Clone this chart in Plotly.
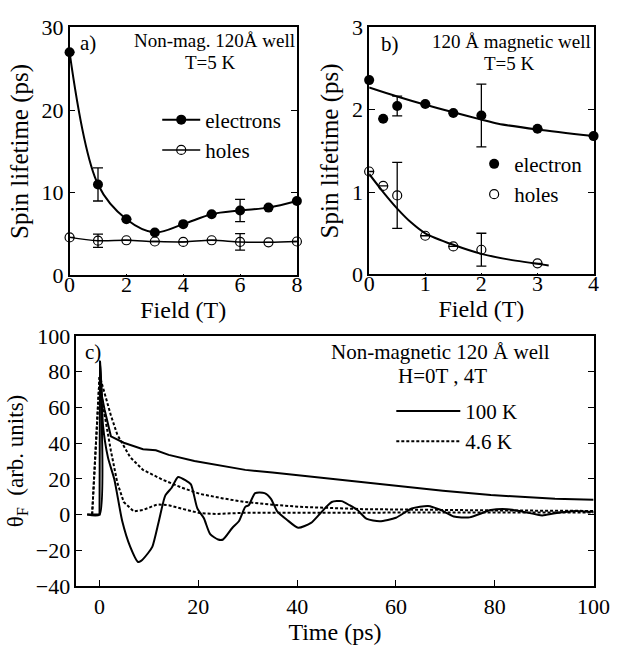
import plotly.graph_objects as go

W, H = 626, 647
FONT = "Liberation Serif"

# ---------------- Panel a data ----------------
field_a = [0, 1, 2, 3, 4, 5, 6, 7, 8]
electrons_a = [27.0, 11.0, 6.8, 5.2, 6.2, 7.4, 7.85, 8.2, 9.0]
electrons_a_err = [None, 2.0, None, None, None, None, 1.35, None, None]
holes_a = [4.6, 4.2, 4.25, 4.1, 4.05, 4.25, 4.05, 4.0, 4.1]
holes_a_err = [None, 0.8, None, None, None, None, 1.0, None, None]

# ---------------- Panel b data ----------------
field_b_e = [0, 0.25, 0.5, 1, 1.5, 2, 3, 4]
electron_b = [2.36, 1.89, 2.045, 2.07, 1.96, 1.93, 1.77, 1.68]
electron_b_err = [None, None, 0.12, None, None, 0.38, None, None]
field_b_h = [0, 0.25, 0.5, 1, 1.5, 2, 3]
holes_b = [1.25, 1.075, 0.96, 0.47, 0.34, 0.30, 0.135]
holes_b_err = [None, None, 0.4, None, None, 0.2, None]
fit_field_e = [0, 0.5, 1, 1.5, 2, 2.3, 3, 4]
fit_e = [2.27, 2.16, 2.06, 1.97, 1.88, 1.83, 1.76, 1.68]
fit_field_h = [0, 0.25, 0.5, 0.75, 1, 1.5, 2, 2.5, 3.2]
fit_h = [1.22, 1.0, 0.80, 0.63, 0.50, 0.36, 0.25, 0.18, 0.11]

# ---------------- Panel c data ----------------
t_100K_0T = [-2.5, 0, 0.1, 0.5, 1.0, 2.3, 4.9, 8.8, 11.4, 14, 19.2, 23, 29.5, 35,
             40.4, 48.2, 59.8, 69.5, 79.2, 92.2, 100]
v_100K_0T = [0, 0, 86, 66, 59, 43.8, 40.2, 36.6, 36, 33.4, 30, 28.2, 25, 23.5,
             21.9, 19.6, 16.3, 13.3, 10.9, 8.8, 8.3]

t_100K_4T = [-2.5, 0, 0.1, 0.7, 1.7, 3.0, 4.6, 6.2, 7.8, 8.4, 9.8, 10.7, 12.0, 13.3,
             14.6, 15.9, 17.5, 18.5, 19.8, 21.1, 22.4, 24, 25, 26.9, 28.2, 29.5,
             30.2, 31.5, 33.4, 34.7, 36, 37.9, 40.2, 42.8, 44.7, 47, 49, 50.6,
             52.2, 54.1, 56.7, 60, 63.2, 66.5, 69.1, 71.7, 74.9, 79.2, 82.5, 85.7,
             89.6, 92.2, 96.3, 98.9, 100]
v_100K_4T = [0, 0, 86, 50, 32, 19.6, -3.8, -18, -26.6, -26, -21.7, -18, -3.8, 10.6,
             15, 21, 19, 16.9, 3.4, -2, -11, -14, -14, -7.4, -3.8, 4.3,
             5.2, 12, 12, 8.8, 1.6, -2.9, -7.4, -4.7, 0.7, 7, 7.5, 5.2,
             2.5, -2.5, -3.8, -1.8, 3.4, 4.8, 2.5, -1.1, -1.6, 2.5, 3.0, 1.6,
             -0.5, 0.7, 2.0, 1.6, 1.5]

t_46K_0T = [-1.5, 0, 0.3, 1.0, 2.3, 3.6, 6.2, 8.8, 12.7, 16.6, 20.4, 25, 29.5, 35,
            40.5, 53.4, 64.5, 80, 100]
v_46K_0T = [0, 77, 75, 68, 55.5, 44.7, 32.1, 25, 19.6, 15.1, 11.5, 9, 7.0, 5.5,
            4.3, 3.0, 2.6, 2.3, 2.0]

t_46K_4T = [-1.5, 0, 0.7, 2.3, 3.6, 4.9, 6.9, 8.8, 11.7, 14, 17, 20.4, 23.6, 29.5,
            40, 60, 80, 100]
v_46K_4T = [0, 77, 60.8, 35.7, 17.8, 7.0, 1.8, 2.5, 5.7, 5.2, 3, 0.7, 0.3, 1.0,
            1.0, 1.0, 1.0, 1.2]

# ---------------- layout geometry (pixels) ----------------
def px_x(p):
    return p / W

def px_y(p):
    return 1 - p / H

fig = go.Figure()

ebar = dict(type="data", visible=True, color="black", thickness=1.3, width=5)

# Panel a
fig.add_trace(go.Scatter(
    x=field_a, y=electrons_a, mode="lines+markers", name="electrons",
    line=dict(color="black", width=2, shape="spline", smoothing=1.0),
    marker=dict(symbol="circle", size=10, color="black"),
    error_y=dict(array=electrons_a_err, **ebar),
    cliponaxis=False, xaxis="x", yaxis="y", legend="legend"))
fig.add_trace(go.Scatter(
    x=field_a, y=holes_a, mode="lines+markers", name="holes",
    line=dict(color="black", width=1.5, shape="spline", smoothing=1.0),
    marker=dict(symbol="circle-open", size=9, color="black", line=dict(width=1.2)),
    error_y=dict(array=holes_a_err, **ebar),
    cliponaxis=False, xaxis="x", yaxis="y", legend="legend"))

# Panel b
fig.add_trace(go.Scatter(
    x=fit_field_e, y=fit_e, mode="lines", showlegend=False,
    line=dict(color="black", width=2, shape="spline", smoothing=0.8),
    xaxis="x2", yaxis="y2"))
fig.add_trace(go.Scatter(
    x=fit_field_h, y=fit_h, mode="lines", showlegend=False,
    line=dict(color="black", width=2, shape="spline", smoothing=0.8),
    xaxis="x2", yaxis="y2"))
fig.add_trace(go.Scatter(
    x=field_b_e, y=electron_b, mode="markers", name="electron",
    marker=dict(symbol="circle", size=10, color="black"),
    error_y=dict(array=electron_b_err, **ebar),
    cliponaxis=False, xaxis="x2", yaxis="y2", legend="legend2"))
fig.add_trace(go.Scatter(
    x=field_b_h, y=holes_b, mode="markers", name="holes",
    marker=dict(symbol="circle-open", size=9, color="black", line=dict(width=1.2)),
    error_y=dict(array=holes_b_err, **ebar),
    cliponaxis=False, xaxis="x2", yaxis="y2", legend="legend2"))

# Panel c
fig.add_trace(go.Scatter(
    x=t_100K_0T, y=v_100K_0T, mode="lines", name="100 K", legendgroup="100K",
    line=dict(color="black", width=2), xaxis="x3", yaxis="y3", legend="legend3"))
fig.add_trace(go.Scatter(
    x=t_46K_0T, y=v_46K_0T, mode="lines", name="4.6 K", legendgroup="46K",
    line=dict(color="black", width=2, dash="3px,2px"),
    xaxis="x3", yaxis="y3", legend="legend3"))
fig.add_trace(go.Scatter(
    x=t_100K_4T, y=v_100K_4T, mode="lines", name="100 K", legendgroup="100K",
    showlegend=False, line=dict(color="black", width=2, shape="spline", smoothing=0.6),
    xaxis="x3", yaxis="y3"))
fig.add_trace(go.Scatter(
    x=t_46K_4T, y=v_46K_4T, mode="lines", name="4.6 K", legendgroup="46K",
    showlegend=False, line=dict(color="black", width=2, dash="3px,2px"),
    xaxis="x3", yaxis="y3"))

tickfont = dict(family=FONT, size=22, color="black")
ax_common = dict(showline=True, linecolor="black", linewidth=1.5, showgrid=False,
                 zeroline=False, tickfont=tickfont, tickcolor="black")

fig.update_layout(
    width=W, height=H, margin=dict(l=0, r=0, t=0, b=0),
    paper_bgcolor="white", plot_bgcolor="white",
    font=dict(family=FONT, size=22, color="black"),
    xaxis=dict(domain=[px_x(66), px_x(302)], range=[0, 8], dtick=2,
               ticks="inside", ticklen=2, mirror=True, anchor="y", ticklabelstandoff=-12,
               title=dict(text="Field (T)", font=dict(size=24), standoff=0), **ax_common),
    yaxis=dict(domain=[px_y(274), px_y(16)], range=[0, 30], dtick=10,
               ticks="inside", ticklen=6, mirror="ticks", anchor="x",
               title=dict(text="Spin lifetime (ps)", font=dict(size=25), standoff=6),
               **ax_common),
    xaxis2=dict(domain=[px_x(377), px_x(610)], range=[0, 4], dtick=1,
                ticks="inside", ticklen=2, mirror=True, anchor="y2", ticklabelstandoff=-12,
                title=dict(text="Field (T)", font=dict(size=24), standoff=0), **ax_common),
    yaxis2=dict(domain=[px_y(273), px_y(16)], range=[0, 3], dtick=1,
                ticks="inside", ticklen=6, mirror="ticks", anchor="x2",
                title=dict(text="Spin lifetime (ps)", font=dict(size=25), standoff=6),
                **ax_common),
    xaxis3=dict(domain=[px_x(73), px_x(610)], range=[-4.7, 100], dtick=20,
                ticks="inside", ticklen=6, mirror=True, anchor="y3",
                title=dict(text="Time (ps)", font=dict(size=24), standoff=2), **ax_common),
    yaxis3=dict(domain=[px_y(597), px_y(337)], range=[-40, 100], dtick=20,
                ticks="inside", ticklen=6, mirror="ticks", anchor="x3",
                title=dict(text="θ<sub>F</sub>  (arb. units)", font=dict(size=23), standoff=6),
                **ax_common),
    legend=dict(x=px_x(157), y=px_y(91), xanchor="left", yanchor="top",
                bgcolor="rgba(0,0,0,0)", borderwidth=0, itemwidth=38,
                font=dict(family=FONT, size=21, color="black"), tracegroupgap=0),
    legend2=dict(x=px_x(486), y=px_y(137), xanchor="left", yanchor="top",
                 bgcolor="rgba(0,0,0,0)", borderwidth=0, itemwidth=30,
                 font=dict(family=FONT, size=21, color="black"), tracegroupgap=0),
    legend3=dict(x=px_x(400), y=px_y(394), xanchor="left", yanchor="top",
                 bgcolor="rgba(0,0,0,0)", borderwidth=0, itemwidth=64,
                 font=dict(family=FONT, size=21, color="black"), tracegroupgap=0),
)

ann = [
    ("a)", 85, 32, 21),
    ("Non-mag. 120Å well", 216, 30, 19),
    ("T=5 K", 212, 53, 19),
    ("b)", 399, 33, 21),
    ("120 Å magnetic well", 525, 31, 19),
    ("T=5 K", 523, 54, 19),
    ("c)", 90, 354, 21),
    ("Non-magnetic 120 Å well", 451, 354, 21),
    ("H=0T , 4T", 453, 379, 21),
]
for text, x, y, s in ann:
    fig.add_annotation(text=text, x=px_x(x), y=px_y(y), xref="paper", yref="paper",
                       showarrow=False, xanchor="center", yanchor="middle",
                       font=dict(family=FONT, size=s, color="black"))

fig.write_html("out.html")
